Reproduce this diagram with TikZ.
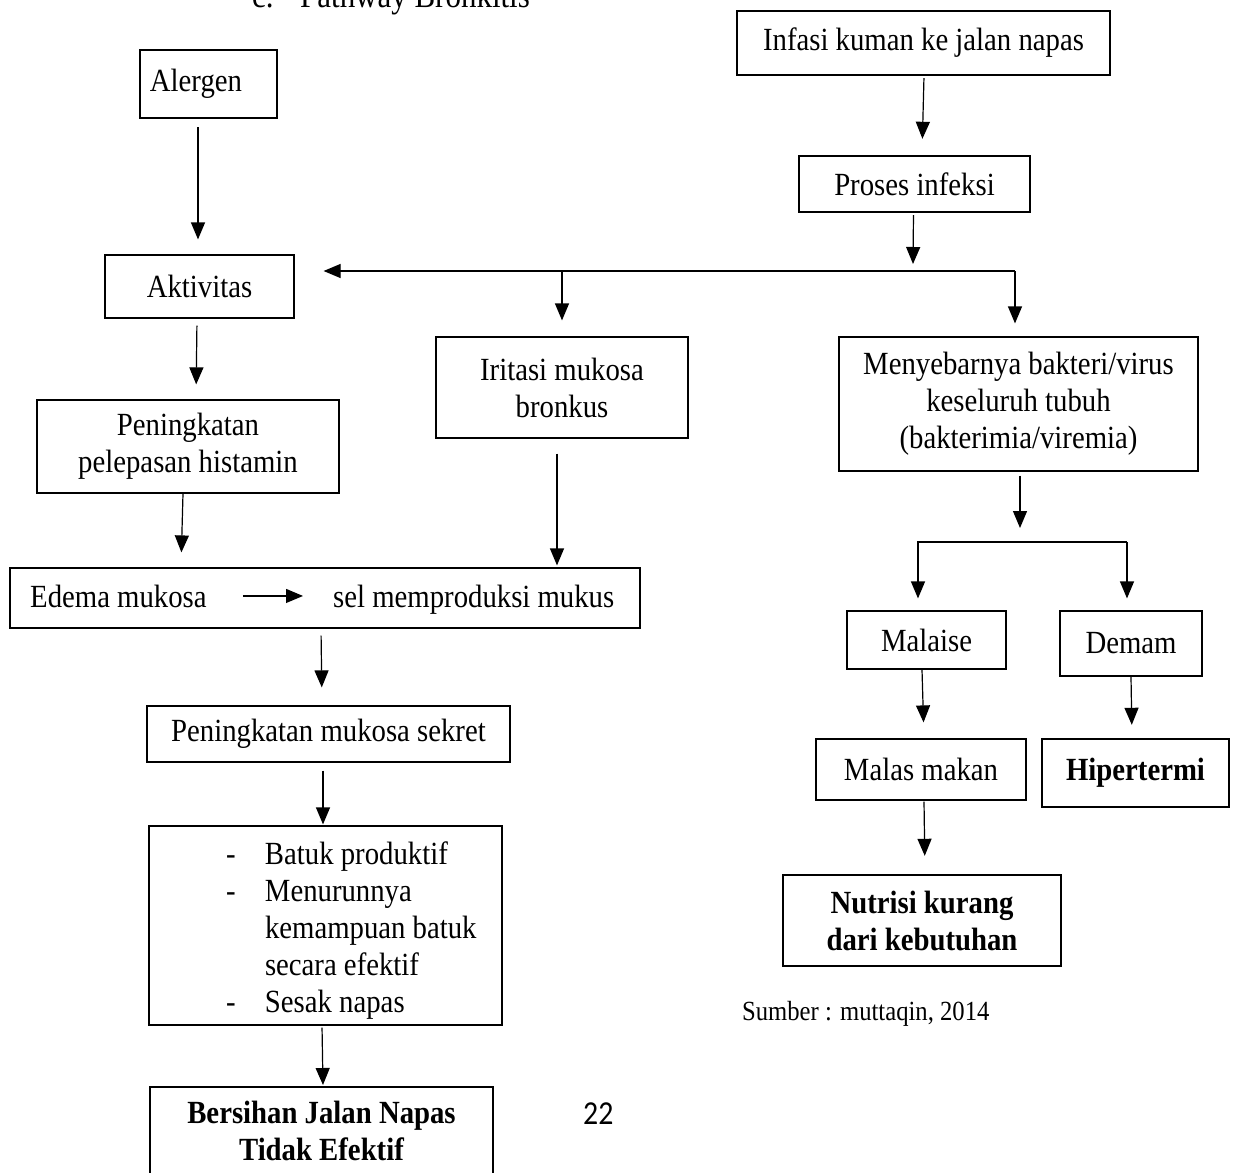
\documentclass[tikz,border=0pt]{standalone}
\usepackage{fontspec}
\setmainfont[FakeStretch=0.89]{Liberation Serif}
\newfontfamily\pagenumfont[FakeStretch=0.89]{Carlito}
\usetikzlibrary{arrows.meta}
\newcommand{\boxfont}{\fontsize{32.3}{37}\selectfont}

\begin{document}
\begin{tikzpicture}[x=1pt,y=-1pt,
  box/.style={draw, line width=1.2pt, align=center, inner sep=0pt, font=\boxfont},
  thickbox/.style={box, line width=2.4pt},
  boldbox/.style={thickbox, font=\boxfont\bfseries},
  txt/.style={inner sep=0pt, anchor=base west},
  arr/.style={line width=1.2pt, -{Triangle[width=14pt,length=17pt]}}]
\useasboundingbox (0,0) rectangle (1235,1173);

% Text Node
\node[txt, font=\fontsize{34.8}{37}\selectfont] (title) at (252,7) {c.\hspace{26.5pt}Pathway Bronkitis};

%Shape: Rectangle (left column)
\node[thickbox, minimum width=137pt, minimum height=68pt] (alergen) at (208.5,84) {\hspace*{-25pt}Alergen};
\node[box, minimum width=189pt, minimum height=63pt] (aktiv) at (199.5,286.5) {Aktivitas};
\node[box, minimum width=302pt, minimum height=93pt] (histamin) at (188,446.5) {Peningkatan\\pelepasan histamin};
\node[box, minimum width=252pt, minimum height=101pt] (iritasi) at (562,387.5) {Iritasi mukosa\\bronkus};
\node[box, minimum width=630pt, minimum height=60pt] (edema) at (325,598) {};
\node[txt, font=\boxfont] (edemaL) at (30,607) {Edema mukosa};
\node[txt, font=\boxfont] (edemaR) at (333,607) {sel memproduksi mukus};
\node[box, minimum width=363pt, minimum height=56pt] (sekret) at (328.5,734) {Peningkatan mukosa sekret};
\node[box, minimum width=353pt, minimum height=199pt] (gejala) at (325.5,925.5) {\begin{tabular}{@{\hspace{77pt}}p{39pt}@{}p{237pt}@{}}
-&Batuk produktif\\
-&Menurunnya\\
&kemampuan batuk\\
&secara efektif\\
-&Sesak napas\\[-12pt]
\end{tabular}};
\node[boldbox, anchor=north, inner ysep=14pt, text depth=8pt, minimum width=343pt] (bersihan) at (321.5,1086) {Bersihan Jalan Napas\\Tidak Efektif};

%Shape: Rectangle (right column)
\node[thickbox, minimum width=373pt, minimum height=64pt] (infasi) at (923.5,43) {Infasi kuman ke jalan napas};
\node[thickbox, minimum width=231pt, minimum height=56pt] (proses) at (914.5,184) {Proses infeksi};
\node[box, minimum width=359pt, minimum height=134pt] (menyebar) at (1018.5,404) {Menyebarnya bakteri/virus\\keseluruh tubuh\\(bakterimia/viremia)};
\node[box, minimum width=159pt, minimum height=58pt] (malaise) at (926.5,640) {Malaise};
\node[box, minimum width=142pt, minimum height=65pt] (demam) at (1131,643.5) {Demam};
\node[box, minimum width=210pt, minimum height=61pt] (malas) at (921,769.5) {Malas makan};
\node[boldbox, minimum width=187pt, minimum height=68pt] (hiper) at (1135.5,773) {Hipertermi};
\node[boldbox, minimum width=278pt, minimum height=91pt] (nutrisi) at (922,920.5) {Nutrisi kurang\\dari kebutuhan};

% Text Node
\node[txt, font=\fontsize{27.7}{32}\selectfont] (sumber) at (742,1020) {Sumber : muttaqin, 2014};
% Text Node
\node[txt, font=\pagenumfont\fontsize{33.5}{38}\selectfont] (pagenum) at (583,1124) {22};

%Straight Lines (branch points)
\coordinate (tee) at (913,264);
\coordinate (split) at (1015,271);
\coordinate (fork) at (1020,542);
\coordinate (forkL) at (918,542);
\coordinate (forkR) at (1127,542);

%Straight Lines
\draw[arr, shorten <=8pt, shorten >=15pt] ([xshift=-10.5pt]alergen.south) -- ([xshift=-1.5pt]aktiv.north);
\draw[arr, shorten <=2pt, shorten >=16pt] ([xshift=0.5pt]infasi.south) -- ([xshift=7.5pt]proses.north);
\draw[arr, shorten <=2pt] ([xshift=-1pt]proses.south) -- (tee);
\draw[arr, shorten >=29pt] (split) -- (split -| aktiv.east);
\draw[arr, shorten >=13pt] (split) -- (split |- menyebar.north);
\draw[arr, shorten >=16pt] (split -| iritasi.north) -- (iritasi.north);
\draw[arr, shorten <=7pt, shorten >=15pt] ([xshift=-2.5pt]aktiv.south) -- ([xshift=8pt]histamin.north);
\draw[arr, shorten >=15pt] ([xshift=-5pt]histamin.south) -- ([xshift=-144pt]edema.north);
\draw[arr, shorten <=15pt, shorten >=2pt] ([xshift=-5pt]iritasi.south) -- ([xshift=232pt]edema.north);
\draw[arr, shorten <=36pt, shorten >=30pt] (edemaL.east) -- (edemaL.east -| edemaR.west);
\draw[arr, shorten <=7pt, shorten >=18pt] ([xshift=-4pt]edema.south) -- ([xshift=-6.5pt]sekret.north);
\draw[arr, shorten <=8pt, shorten >=1pt] ([xshift=-5.5pt]sekret.south) -- ([xshift=-2.5pt]gejala.north);
\draw[arr, shorten <=2pt, shorten >=1pt] ([xshift=-3.5pt]gejala.south) -- ([xshift=1.5pt]bersihan.north);
\draw[arr, shorten <=4pt, shorten >=14pt] ([xshift=1.5pt]menyebar.south) -- (fork);
\draw[arr, shorten >=12pt] (forkR) -- (forkL) -- (forkL |- malaise.north);
\draw[arr, shorten >=12pt] (forkR) -- (forkR |- demam.north);
\draw[arr, shorten >=16pt] ([xshift=-4.5pt]malaise.south) -- ([xshift=3pt]malas.north);
\draw[arr, shorten >=13pt] (demam.south) -- ([xshift=-3.5pt]hiper.north);
\draw[arr, shorten <=1pt, shorten >=18pt] ([xshift=3pt]malas.south) -- ([xshift=3pt]nutrisi.north);
\end{tikzpicture}
\end{document}
